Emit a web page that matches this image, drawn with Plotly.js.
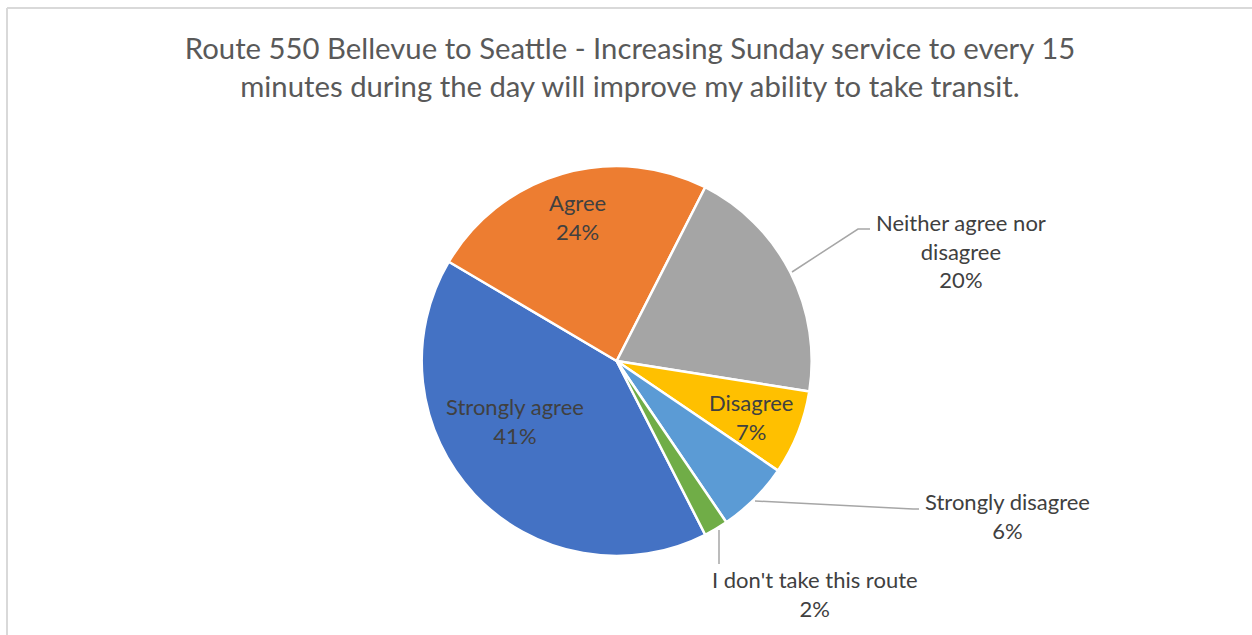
<!DOCTYPE html>
<html>
<head>
<meta charset="utf-8">
<script src="https://cdn.plot.ly/plotly-3.0.1.min.js"></script>
<style>html,body{margin:0;padding:0;background:#fff;}#chart{width:1252px;height:635px;}</style>
</head>
<body>
<div id="chart"></div>
<script>
// Data
var categories = ["Strongly agree", "Agree", "Neither agree nor disagree", "Disagree", "Strongly disagree", "I don't take this route"];
var labelLines = ["Strongly agree", "Agree", "Neither agree nor<br>disagree", "Disagree", "Strongly disagree", "I don't take this route"];
var values = [41, 24, 20, 7, 6, 2];
var colors = ["#4472C4", "#ED7D31", "#A5A5A5", "#FFC000", "#5B9BD5", "#70AD47"];
var titleText = "Route 550 Bellevue to Seattle - Increasing Sunday service to every 15<br>minutes during the day will improve my ability to take transit.";

var W = 1252, H = 635;
function px(x){ return x / W; }
function py(y){ return 1 - y / H; }

// label anchor positions (pixels) per slice
var labelPos = [[515, 421], [577, 217], [961, 251], [751, 417], [1007, 516], [815, 594]];
var total = values.reduce(function(a,b){return a+b;}, 0);

var annotations = categories.map(function(c, i){
  return {
    xref: 'paper', yref: 'paper',
    x: px(labelPos[i][0]), y: py(labelPos[i][1]),
    xanchor: 'center', yanchor: 'middle',
    text: labelLines[i] + '<br>' + Math.round(values[i] / total * 100) + '%',
    showarrow: false,
    font: {family: 'Lato, sans-serif', size: 22, color: '#404040'}
  };
});

function pathPx(pts){
  return pts.map(function(p, k){ return (k ? 'L' : 'M') + px(p[0]) + ',' + py(p[1]); }).join(' ');
}
var leader = {color: '#A6A6A6', width: 1.5};
var shapes = [
  {type: 'path', xref: 'paper', yref: 'paper', path: pathPx([[792, 272], [858, 229], [870, 229]]), line: leader},
  {type: 'path', xref: 'paper', yref: 'paper', path: pathPx([[755, 501], [913, 509], [919, 509]]), line: leader},
  {type: 'path', xref: 'paper', yref: 'paper', path: pathPx([[719, 530], [719, 564]]), line: leader},
  {type: 'line', xref: 'paper', yref: 'paper', x0: px(7), x1: 1.01, y0: py(8), y1: py(8), line: {color: '#D9D9D9', width: 2}},
  {type: 'line', xref: 'paper', yref: 'paper', x0: px(7), x1: px(7), y0: py(8), y1: -0.01, line: {color: '#D9D9D9', width: 2}}
];

var trace = {
  type: 'pie',
  labels: categories,
  values: values,
  sort: false,
  direction: 'clockwise',
  rotation: 153,
  marker: {colors: colors, line: {color: '#FFFFFF', width: 2.5}},
  textinfo: 'none',
  hoverinfo: 'none',
  domain: {x: [px(616.7 - 195), px(616.7 + 195)], y: [py(556), py(166)]}
};

var layout = {
  width: W, height: H,
  margin: {l: 0, r: 0, t: 0, b: 0},
  paper_bgcolor: '#FFFFFF',
  showlegend: false,
  title: {
    text: titleText,
    font: {family: 'Lato, sans-serif', size: 29.3, color: '#595959'},
    x: px(630), xanchor: 'center',
    y: py(59), yanchor: 'middle', yref: 'container'
  },
  annotations: annotations,
  shapes: shapes
};

Plotly.newPlot('chart', [trace], layout, {staticPlot: true, displayModeBar: false});
</script>
</body>
</html>
